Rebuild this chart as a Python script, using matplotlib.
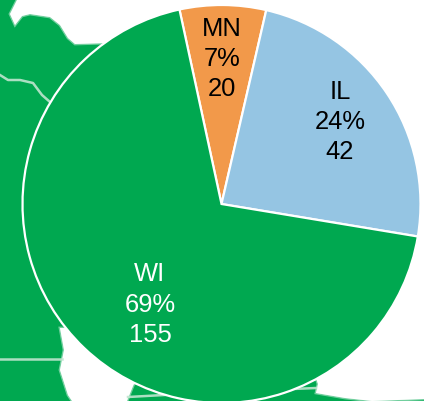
import matplotlib
matplotlib.use("Agg")
import matplotlib.pyplot as plt
import numpy as np
from matplotlib.patches import Polygon

W, H = 424, 401

states = ["MN", "IL", "WI"]
shares = [7, 24, 69]
counts = [20, 42, 155]
colors = ["#F2994A", "#95C5E3", "#00A850"]
text_colors = ["black", "black", "white"]

# background map, in image pixels (y down)
green = "#00A850"
lake_top = [(17, 0), (10, 14), (15, 25), (22, 16), (30, 14), (50, 17), (60, 25), (68, 38),
            (75, 44), (108, 43), (221, 204), (424, 204), (424, 0)]
lake_bottom = [(60, 328), (64, 350), (60, 370), (68, 395), (72, 401), (127, 401), (133, 386),
               (221, 204), (424, 204), (424, 399), (372, 401), (345, 398), (316, 393),
               (318, 384), (300, 330)]
border_left = [(0, 75), (8, 80), (20, 80), (33, 83), (42, 95), (50, 102)]
border_low = [(0, 359), (62, 359)]
border_bottom = [(128, 397), (200, 393), (316, 388)]


def to_xy(points):
    pts = np.array(points, dtype=float)
    pts[:, 1] = H - pts[:, 1]
    return pts


plt.rcParams["font.family"] = ["Liberation Sans", "DejaVu Sans"]

fig = plt.figure(figsize=(W / 100, H / 100), dpi=100)
ax = fig.add_axes([0, 0, 1, 1])

ax.add_patch(plt.Rectangle((0, 0), W, H, fc=green, ec="none", zorder=0))
for shape in [lake_top, lake_bottom]:
    # soft edge, the map in the picture is a blurry image
    ax.add_patch(Polygon(to_xy(shape), closed=True, fc="white", ec="white", lw=2.0,
                         alpha=0.45, zorder=1))
    ax.add_patch(Polygon(to_xy(shape), closed=True, fc="white", ec="none", zorder=1))
for line in [border_left, border_low, border_bottom]:
    pts = to_xy(line)
    ax.plot(pts[:, 0], pts[:, 1], color="#BFE6CF", lw=1.8, alpha=0.9, zorder=1.5)

wedges, _ = ax.pie(
    shares,
    colors=colors,
    startangle=102.2,
    counterclock=False,
    center=(221.5, H - 204),
    radius=199,
    frame=True,
    wedgeprops={"edgecolor": "white", "linewidth": 1.6, "zorder": 2},
)

label_pos = [(222, 59), (340, 122), (150, 304.5)]
for name, pct, n, tc, (x, y) in zip(states, shares, counts, text_colors, label_pos):
    ax.text(x, H - y, f"{name}\n{pct}%\n{n}", color=tc, fontsize=18.4, ha="center",
            va="center", linespacing=1.33, zorder=3)

ax.set_xlim(0, W)
ax.set_ylim(0, H)
ax.axis("off")
fig.savefig("out.png", dpi=100)
